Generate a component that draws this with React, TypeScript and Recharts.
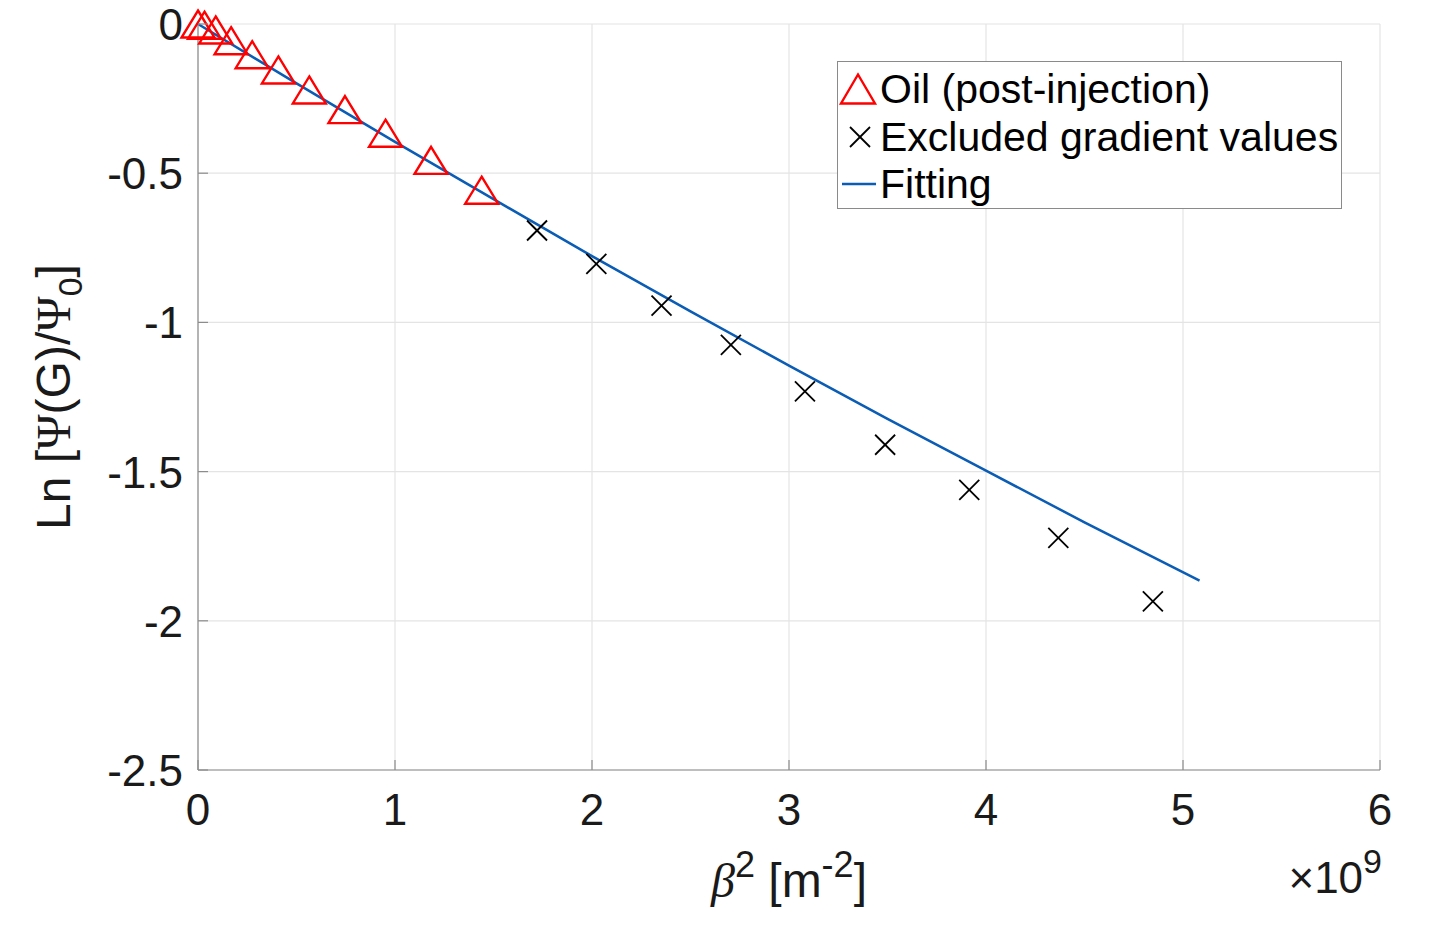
import React from 'react';
import { ComposedChart, Scatter, Line, XAxis, YAxis, CartesianGrid, Legend, Label } from 'recharts';

// ---- data ----
const oilX = [0, 0.033, 0.09, 0.168, 0.275, 0.408, 0.565, 0.746, 0.952, 1.183, 1.44];
const oilY = [0, -0.004, -0.02, -0.056, -0.103, -0.154, -0.221, -0.287, -0.366, -0.457, -0.557];

const exclX = [1.721, 2.022, 2.353, 2.705, 3.081, 3.488, 3.915, 4.367, 4.847];
const exclY = [-0.692, -0.804, -0.944, -1.075, -1.231, -1.41, -1.561, -1.722, -1.935];

const fitX = [0, 0.5, 1, 1.5, 2, 2.5, 3, 3.5, 4, 4.5, 5.084];
const fitY = [0, -0.199, -0.395, -0.587, -0.778, -0.963, -1.145, -1.323, -1.497, -1.67, -1.865];

const xTicks = [0, 1, 2, 3, 4, 5, 6];
const xTickLabels = ['0', '1', '2', '3', '4', '5', '6'];
const yTicks = [-2.5, -2, -1.5, -1, -0.5, 0];
const yTickLabels = ['-2.5', '-2', '-1.5', '-1', '-0.5', '0'];

const legendLabels = ['Oil (post-injection)', 'Excluded gradient values', 'Fitting'];

const oilData = oilX.map((x, i) => ({ x, y: oilY[i] }));
const exclData = exclX.map((x, i) => ({ x, y: exclY[i] }));
const fitData = fitX.map((x, i) => ({ x, y: fitY[i] }));

// ---- styles ----
const FONT = '"Liberation Sans", Arial, Helvetica, sans-serif';
const SERIF = '"Liberation Serif", "Times New Roman", serif';
const AXIS = '#8c8c8c';
const TEXT = '#1a1a1a';
const GRID = '#e4e4e4';
const RED = '#ff0000';
const BLUE = '#0a5cb4';

const W = 1413;
const H = 924;

const Triangle = (props: any) => {
  const { cx, cy } = props;
  if (cx == null || cy == null) return null;
  const hw = 16.5;
  const hh = 13.5;
  return (
    <path
      d={`M${cx},${cy - hh} L${cx + hw},${cy + hh} L${cx - hw},${cy + hh} Z`}
      fill="none"
      stroke={RED}
      strokeWidth={2.4}
      strokeLinejoin="miter"
    />
  );
};

const Cross = (props: any) => {
  const { cx, cy } = props;
  if (cx == null || cy == null) return null;
  const s = 10;
  return (
    <g stroke="#000" strokeWidth={1.8}>
      <line x1={cx - s} y1={cy - s} x2={cx + s} y2={cy + s} />
      <line x1={cx - s} y1={cy + s} x2={cx + s} y2={cy - s} />
    </g>
  );
};

const BottomTick = (props: any) => {
  const { x, y, payload } = props;
  const i = xTicks.indexOf(payload.value);
  return (
    <g>
      <line x1={x} x2={x} y1={y} y2={y - 10} stroke={AXIS} strokeWidth={1.2} />
      <text x={x} y={y + 55} textAnchor="middle" fontSize={44} fontFamily={FONT} fill={TEXT}>
        {xTickLabels[i]}
      </text>
    </g>
  );
};

const TopTick = (props: any) => {
  const { x, y } = props;
  return <line x1={x} x2={x} y1={y} y2={y + 10} stroke={AXIS} strokeWidth={1.2} />;
};

const LeftTick = (props: any) => {
  const { x, y, payload } = props;
  const i = yTicks.indexOf(payload.value);
  return (
    <g>
      <line x1={x} x2={x + 10} y1={y} y2={y} stroke={AXIS} strokeWidth={1.2} />
      <text x={x - 15} y={y + 16} textAnchor="end" fontSize={44} fontFamily={FONT} fill={TEXT}>
        {yTickLabels[i]}
      </text>
    </g>
  );
};

const RightTick = (props: any) => {
  const { x, y } = props;
  return <line x1={x} x2={x - 10} y1={y} y2={y} stroke={AXIS} strokeWidth={1.2} />;
};

const XLabel = (props: any) => {
  const vb = props.viewBox || {};
  const cx = vb.x + vb.width / 2;
  const base = vb.y + 127;
  const right = vb.x + vb.width;
  return (
    <g>
      <text x={cx} y={base} textAnchor="middle" fontSize={48} fontFamily={FONT} fill={TEXT}>
        <tspan fontFamily={SERIF} fontStyle="italic">β</tspan>
        <tspan dy={-20} fontSize={36}>2</tspan>
        <tspan dy={20}> [m</tspan>
        <tspan dy={-20} fontSize={36}>-2</tspan>
        <tspan dy={20}>]</tspan>
      </text>
      <text x={right + 2} y={base - 4} textAnchor="end" fontSize={44} fontFamily={FONT} fill={TEXT}>
        <tspan>×10</tspan>
        <tspan dy={-20} fontSize={34}>9</tspan>
      </text>
    </g>
  );
};

const YLabel = (props: any) => {
  const vb = props.viewBox || {};
  const bx = vb.x + 22;
  const cy = vb.y + vb.height / 2;
  return (
    <text
      x={bx}
      y={cy}
      transform={`rotate(-90, ${bx}, ${cy})`}
      textAnchor="middle"
      fontSize={48}
      fontFamily={FONT}
      fill={TEXT}
    >
      <tspan>Ln [</tspan>
      <tspan fontFamily={SERIF}>Ψ</tspan>
      <tspan>(G)/</tspan>
      <tspan fontFamily={SERIF}>Ψ</tspan>
      <tspan dy={12} fontSize={34}>0</tspan>
      <tspan dy={-12}>]</tspan>
    </text>
  );
};

const rowCenters = [27, 75, 122];

const LegendBox = () => (
  <div
    style={{
      width: 505,
      height: 148,
      boxSizing: 'border-box',
      border: '1.5px solid #8a8a8a',
      background: '#fff',
      position: 'relative',
      fontFamily: FONT,
      fontSize: 41,
      color: '#000',
    }}
  >
    {legendLabels.map((lab, i) => (
      <div
        key={lab}
        style={{
          position: 'absolute',
          left: 0,
          top: rowCenters[i] - 25,
          height: 50,
          width: 500,
        }}
      >
        <svg width={42} height={50} style={{ position: 'absolute', left: 0, top: 0 }}>
          {i === 0 && (
            <path d="M20,10.5 L37,39.5 L3,39.5 Z" fill="none" stroke={RED} strokeWidth={2.4} />
          )}
          {i === 1 && (
            <g stroke="#000" strokeWidth={1.8}>
              <line x1={12} y1={15} x2={32} y2={35} />
              <line x1={12} y1={35} x2={32} y2={15} />
            </g>
          )}
          {i === 2 && <line x1={4} y1={25} x2={38} y2={25} stroke={BLUE} strokeWidth={2.5} />}
        </svg>
        <div
          style={{
            position: 'absolute',
            left: 42,
            top: 0,
            height: 50,
            lineHeight: '50px',
            whiteSpace: 'nowrap',
          }}
        >
          {lab}
        </div>
      </div>
    ))}
  </div>
);

export default function App() {
  return (
    <div style={{ width: W, height: H, position: 'relative', marginTop: -8 }}>
      <ComposedChart
        width={W}
        height={H}
        margin={{ top: 24, right: 41, left: 40, bottom: 0 }}
        style={{ overflow: 'visible' }}
      >
        <CartesianGrid stroke={GRID} strokeWidth={1.2} horizontalValues={yTicks} verticalValues={xTicks} />
        <XAxis
          xAxisId={0}
          dataKey="x"
          type="number"
          domain={[0, 6]}
          ticks={xTicks}
          height={154}
          tickSize={0}
          tickMargin={0}
          tickLine={false}
          axisLine={{ stroke: AXIS, strokeWidth: 1.2 }}
          tick={<BottomTick />}
          interval={0}
        >
          <Label content={<XLabel />} />
        </XAxis>
        <XAxis
          xAxisId="top"
          orientation="top"
          type="number"
          domain={[0, 6]}
          ticks={xTicks}
          height={0}
          tickSize={0}
          tickMargin={0}
          tickLine={false}
          axisLine={{ stroke: AXIS, strokeWidth: 1.2 }}
          tick={<TopTick />}
          interval={0}
        />
        <YAxis
          yAxisId={0}
          dataKey="y"
          type="number"
          domain={[-2.5, 0]}
          ticks={yTicks}
          width={150}
          tickSize={0}
          tickMargin={0}
          tickLine={false}
          axisLine={{ stroke: AXIS, strokeWidth: 1.2 }}
          tick={<LeftTick />}
          interval={0}
        >
          <Label content={<YLabel />} />
        </YAxis>
        <YAxis
          yAxisId="right"
          orientation="right"
          type="number"
          domain={[-2.5, 0]}
          ticks={yTicks}
          width={0}
          tickSize={0}
          tickMargin={0}
          tickLine={false}
          axisLine={{ stroke: AXIS, strokeWidth: 1.2 }}
          tick={<RightTick />}
          interval={0}
        />
        <Line
          data={fitData}
          dataKey="y"
          type="linear"
          stroke={BLUE}
          strokeWidth={2.5}
          dot={false}
          activeDot={false}
          isAnimationActive={false}
          legendType="line"
          name={legendLabels[2]}
        />
        <Scatter
          data={exclData}
          dataKey="y"
          shape={<Cross />}
          isAnimationActive={false}
          name={legendLabels[1]}
        />
        <Scatter
          data={oilData}
          dataKey="y"
          shape={<Triangle />}
          isAnimationActive={false}
          name={legendLabels[0]}
        />
        <Legend
          layout="vertical"
          align="center"
          verticalAlign="middle"
          content={<LegendBox />}
          wrapperStyle={{ position: 'absolute', left: 829, top: 61, width: 505, height: 148 }}
        />
      </ComposedChart>
    </div>
  );
}
